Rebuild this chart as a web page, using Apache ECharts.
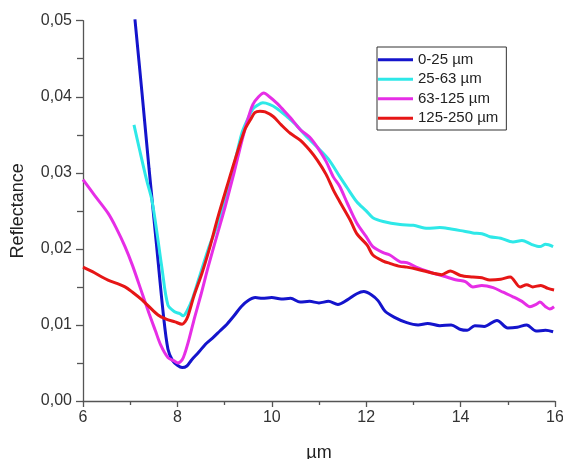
<!DOCTYPE html>
<html><head><meta charset="utf-8">
<script src="https://cdn.jsdelivr.net/npm/echarts@6/dist/echarts.min.js"></script>
<style>html,body{margin:0;padding:0;background:#fff}#c{width:563px;height:459px}</style>
</head><body><div id="c"></div>
<script>
const seriesNames = ['0-25 µm','25-63 µm','63-125 µm','125-250 µm'];
const xTickLabels = ['6','8','10','12','14','16'];

const blueX = [7.10,7.25,7.40,7.55,7.70,7.80,7.90,8.00,8.10,8.20,8.30,8.45,8.60,8.75,8.90,9.05,9.20,9.35,9.50,9.65,9.80,10.0,10.2,10.4,10.6,10.8,11.0,11.2,11.4,11.6,11.8,11.95,12.1,12.25,12.4,12.6,12.86,13.1,13.3,13.56,13.8,14.0,14.14,14.3,14.5,14.77,15.0,15.2,15.4,15.6,15.8,15.96];
const blueY = [0.0502,0.0405,0.0305,0.0210,0.0115,0.0068,0.0053,0.0047,0.0044,0.0046,0.0054,0.0064,0.0075,0.0083,0.0092,0.0101,0.0112,0.0124,0.0132,0.0136,0.0135,0.0136,0.0134,0.0135,0.0130,0.0131,0.0129,0.0131,0.0127,0.0133,0.0141,0.0144,0.0140,0.0132,0.0118,0.0110,0.0103,0.0100,0.0102,0.0099,0.0100,0.0094,0.0093,0.0099,0.0098,0.0106,0.0096,0.0097,0.0100,0.0092,0.0093,0.0091];

const cyanX = [7.08,7.20,7.35,7.46,7.57,7.67,7.80,7.95,8.05,8.12,8.20,8.31,8.45,8.65,8.85,9.01,9.20,9.37,9.50,9.60,9.70,9.81,9.95,10.1,10.32,10.5,10.7,10.96,11.2,11.44,11.6,11.8,12.0,12.14,12.36,12.72,13.0,13.3,13.56,13.8,14.0,14.26,14.45,14.62,14.85,15.11,15.3,15.5,15.68,15.8,15.96];
const cyanY = [0.0363,0.0330,0.0290,0.0264,0.0220,0.0176,0.0126,0.0117,0.0115,0.0112,0.0118,0.0133,0.0160,0.0199,0.0232,0.0264,0.0310,0.0353,0.0372,0.0384,0.0389,0.0392,0.0390,0.0385,0.0374,0.0364,0.0350,0.0334,0.0318,0.0295,0.0280,0.0262,0.0250,0.0241,0.0236,0.0232,0.0231,0.0227,0.0228,0.0226,0.0224,0.0221,0.0220,0.0216,0.0214,0.0209,0.0211,0.0206,0.0203,0.0206,0.0203];

const magX = [6.00,6.25,6.53,6.70,6.89,7.05,7.25,7.40,7.53,7.65,7.80,7.92,8.01,8.10,8.16,8.25,8.37,8.50,8.65,8.85,9.01,9.20,9.37,9.50,9.60,9.72,9.83,9.95,10.1,10.24,10.4,10.6,10.8,10.96,11.15,11.3,11.44,11.6,11.8,12.0,12.14,12.36,12.5,12.72,12.86,13.1,13.42,13.65,13.92,14.1,14.26,14.45,14.69,14.9,15.11,15.3,15.47,15.6,15.68,15.8,15.89,15.98];
const magY = [0.0291,0.0270,0.0247,0.0228,0.0203,0.0178,0.0142,0.0115,0.0093,0.0073,0.0057,0.0053,0.0050,0.0054,0.0063,0.0082,0.0111,0.0140,0.0176,0.0220,0.0255,0.0300,0.0343,0.0372,0.0390,0.0400,0.0405,0.0400,0.0392,0.0383,0.0372,0.0357,0.0347,0.0334,0.0315,0.0295,0.0282,0.0260,0.0234,0.0216,0.0203,0.0195,0.0192,0.0183,0.0182,0.0175,0.0168,0.0164,0.0159,0.0157,0.0150,0.0152,0.0149,0.0143,0.0137,0.0131,0.0124,0.0127,0.0130,0.0124,0.0121,0.0124];

const redX = [6.00,6.2,6.4,6.53,6.7,6.89,7.05,7.25,7.4,7.59,7.75,7.95,8.10,8.16,8.22,8.35,8.52,8.7,8.86,9.05,9.22,9.43,9.55,9.64,9.75,9.86,10.03,10.2,10.39,10.6,10.8,10.96,11.15,11.3,11.44,11.66,11.8,12.02,12.14,12.36,12.5,12.72,12.86,13.1,13.42,13.6,13.78,14.0,14.26,14.45,14.62,14.85,15.05,15.26,15.4,15.53,15.7,15.85,15.98];
const redY = [0.0176,0.0170,0.0163,0.0159,0.0155,0.0150,0.0143,0.0133,0.0124,0.0113,0.0108,0.0104,0.0101,0.0104,0.0111,0.0138,0.0168,0.0205,0.0242,0.0282,0.0317,0.0357,0.0370,0.0379,0.0381,0.0380,0.0374,0.0363,0.0352,0.0343,0.0330,0.0317,0.0298,0.0278,0.0262,0.0238,0.0220,0.0205,0.0192,0.0184,0.0181,0.0177,0.0176,0.0173,0.0168,0.0166,0.0171,0.0165,0.0163,0.0162,0.0159,0.0160,0.0163,0.0150,0.0153,0.0150,0.0152,0.0148,0.0146];

const colors = ['#1414cc','#2ee8e8','#e62ee6','#e61616'];
const xs = [blueX, cyanX, magX, redX];
const ys = [blueY, cyanY, magY, redY];

const FONT = '"Liberation Sans", Arial, sans-serif';
const chart = echarts.init(document.getElementById('c'), null, {renderer:'canvas'});
chart.setOption({
  animation:false,
  backgroundColor:'#fff',
  textStyle:{fontFamily:FONT},
  grid:{left:83, right:8, top:20.7, bottom:58, containLabel:false, outerBoundsMode:'none'},
  legend:{
    orient:'vertical', left:377, top:47,
    width:130,
    padding:[4,8,3,1],
    icon:'rect',
    itemWidth:35, itemHeight:3, itemGap:2,
    borderColor:'#333', borderWidth:1,
    textStyle:{fontSize:15, color:'#222', fontFamily:FONT, lineHeight:17.5},
    data: seriesNames
  },
  xAxis:{
    type:'value', min:6, max:16, interval:2,
    name:'µm', nameLocation:'middle', nameGap:43,
    nameTextStyle:{fontSize:18, color:'#222', fontFamily:FONT},
    axisLine:{show:true, lineStyle:{color:'#555', width:1.3}},
    axisTick:{show:true, inside:false, length:6, lineStyle:{color:'#555', width:1.3}},
    minorTick:{show:true, splitNumber:2, length:4, lineStyle:{color:'#555', width:1.3}},
    axisLabel:{fontSize:16, color:'#333', margin:9, fontFamily:FONT,
      formatter:v=>{const s=String(v); return xTickLabels.includes(s)?s:'';}},
    splitLine:{show:false}
  },
  yAxis:{
    type:'value', min:0, max:0.05, interval:0.01,
    name:'Reflectance', nameLocation:'middle', nameGap:56,
    nameTextStyle:{fontSize:18, color:'#222', fontFamily:FONT},
    axisLine:{show:true, lineStyle:{color:'#555', width:1.3}},
    axisTick:{show:true, inside:false, length:7, lineStyle:{color:'#555', width:1.3}},
    minorTick:{show:true, splitNumber:2, length:6, lineStyle:{color:'#555', width:1.3}},
    axisLabel:{fontSize:16, color:'#333', margin:11, fontFamily:FONT,
      formatter:v=>v.toFixed(2).replace('.',',')},
    splitLine:{show:false}
  },
  series: seriesNames.map((n,i)=>({
    name:n, type:'line', symbol:'none', smooth:0.3,
    color:colors[i],
    itemStyle:{color:colors[i]},
    lineStyle:{width:3, color:colors[i]},
    data: xs[i].map((x,j)=>[x, ys[i][j]])
  }))
});
</script></body></html>
